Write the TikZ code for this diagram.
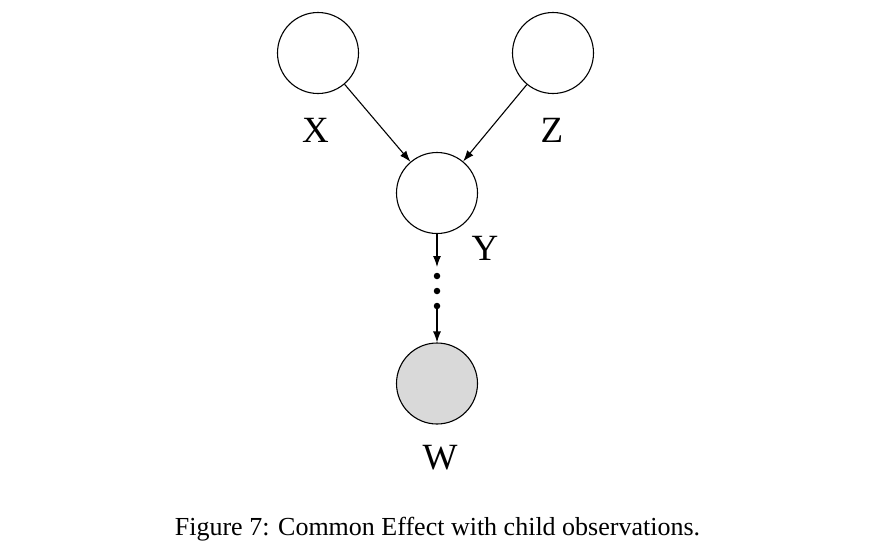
\documentclass[tikz,border=0pt]{standalone}
\usepackage{fontspec}
\setmainfont{Liberation Serif}
\usetikzlibrary{arrows.meta}
\definecolor{obsfill}{RGB}{217,217,217}
\begin{document}
\begin{tikzpicture}[x=1pt,y=-1pt,
  var/.style={circle,draw=black,line width=1.1pt,minimum size=81pt,inner sep=0pt},
  obs/.style={var,fill=obsfill},
  lbl/.style={inner sep=0pt,font=\fontsize{37}{40}\selectfont},
  arr/.style={-{Latex[length=11pt,width=8pt]},line width=1.1pt},
  dotn/.style={circle,fill=black,inner sep=0pt,minimum size=6.5pt}]
\useasboundingbox (0,0) rectangle (888,552);
\node[var] (X) at (318,53) {};
\node[var] (Z) at (553,53) {};
\node[var] (Y) at (437,193) {};
\node[obs] (W) at (437,383.5) {};
\node[lbl] (lX) at (315.5,130) {X};
\node[lbl] (lZ) at (552,130) {Z};
\node[lbl] (lY) at (485,248.5) {Y};
\node[lbl] (lW) at (440,458) {W};
\coordinate (a1) at (437,267);
\node[dotn] (d1) at (437,276) {};
\node[dotn] (d2) at (437,291) {};
\node[dotn] (d3) at (437,306) {};
\draw[arr] (X) -- (Y);
\draw[arr] (Z) -- (Y);
\draw[arr] (Y) -- (a1);
\draw[arr] (d3.center) -- (W);
\node[anchor=base,inner sep=0pt,font=\fontsize{26}{30}\selectfont] (cap) at (437.5,535) {Figure 7: Common Effect with child observations.};
\end{tikzpicture}
\end{document}
